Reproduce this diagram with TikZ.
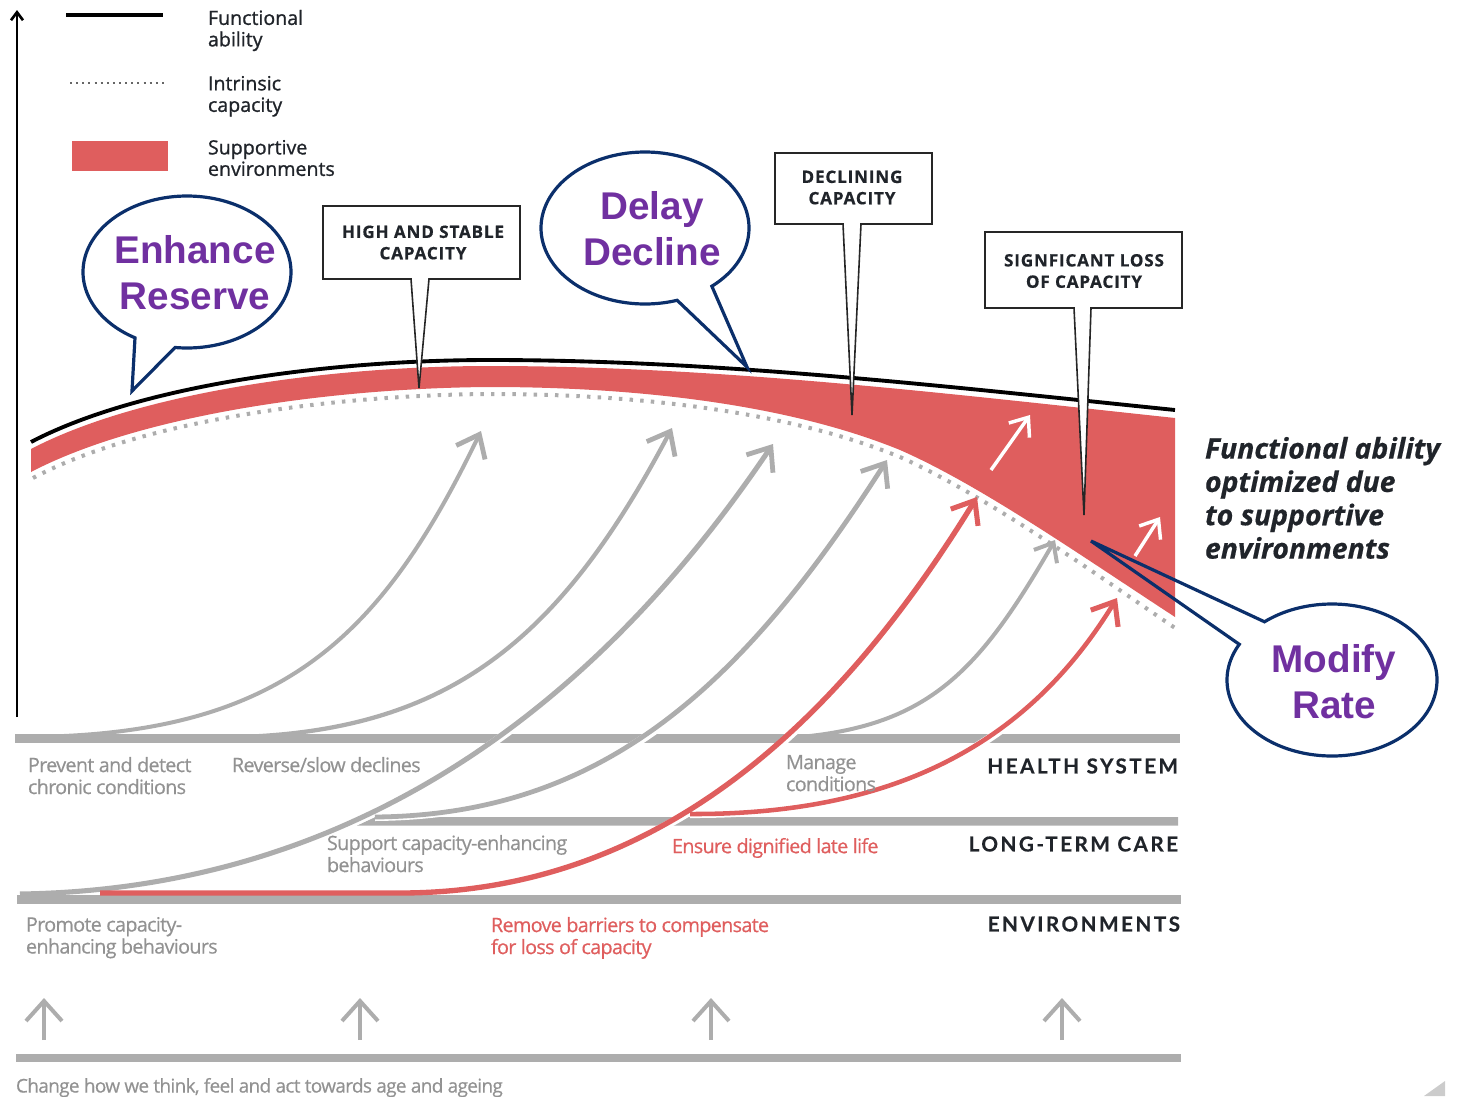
\documentclass[tikz,border=0pt]{standalone}
\usepackage{fontspec}
\setmainfont{Open Sans}
\newfontfamily\arialb{Liberation Sans}[BoldFont={Liberation Sans Bold}]
\newfontfamily\caplabel{Lato}[LetterSpace=12,BoldFeatures={FakeBold=0.4}]
\newfontfamily\tightfont{Open Sans}[LetterSpace=-3.5,FakeBold=0.5]
\newfontfamily\legendfont{Open Sans}[FakeBold=1]
\newfontfamily\boxfont{Open Sans}[LetterSpace=5,BoldFeatures={FakeBold=0.6}]
\newfontfamily\optfont{Open Sans}[BoldItalicFeatures={FakeBold=0.5}]
\usetikzlibrary{arrows.meta}
\definecolor{barg}{HTML}{ADADAD}
\definecolor{redf}{HTML}{DF5E5E}
\definecolor{navyc}{HTML}{0B2F6B}
\definecolor{purp}{HTML}{7030A0}
\definecolor{txtg}{HTML}{929292}
\definecolor{dark}{HTML}{20242A}
\tikzset{
  every node/.style={inner sep=0pt,outer sep=0pt},
  bar/.style={fill=barg,draw=none},
  garrow/.style={draw=barg,line width=3pt,-{Straight Barb[length=15pt,width=24pt,line width=3.6pt]}},
  rarrow/.style={draw=redf,line width=4pt,-{Straight Barb[length=15pt,width=24pt,line width=3.8pt]}},
  warrow/.style={draw=white,line width=2.6pt,-{Straight Barb[length=12pt,width=19pt,line width=2.6pt]}},
  uparrow/.style={draw=barg,line width=3pt,-{Straight Barb[length=15pt,width=27pt,line width=3pt]}},
  cut/.style={draw=white,line width=6pt,xshift=3.6pt},
  bubble/.style={draw=navyc,line width=2.4pt,line join=miter},
  bubbletext/.style={font=\arialb\bfseries\fontsize{29}{34.7}\selectfont,text=purp,align=center},
  pointerbox/.style={draw=black!85,fill=white,line width=1.2pt,line join=miter},
  boxtext/.style={font=\boxfont\bfseries\fontsize{12.8}{16}\selectfont,text=dark,align=center},
  legendtext/.style={font=\legendfont\fontsize{14.7}{16.1}\selectfont,text=dark,align=left,anchor=north west},
  greytext/.style={font=\tightfont\fontsize{14.85}{16.5}\selectfont,text=txtg,align=left,anchor=north west},
  redtext/.style={greytext,text=redf},
  systemtext/.style={font=\caplabel\bfseries\fontsize{15.5}{18}\selectfont,text=dark,anchor=east},
  optimised/.style={font=\optfont\bfseries\itshape\fontsize{21.3}{25}\selectfont,text=dark,align=left,anchor=north west},
}
\begin{document}
\begin{tikzpicture}[x=0.75pt,y=-0.75pt]
\useasboundingbox (0,0) rectangle (1460,1096);
% axis
\coordinate (axisbot) at (17,717);
\coordinate (axistop) at (17,10);
\draw[line width=1.9pt,black,-{Straight Barb[length=6pt,width=9pt,line width=2pt]}] (axisbot) -- (axistop);
% legend
\coordinate (la) at (66,15); \coordinate (lb) at (163,15);
\draw[black,line width=2.7pt] (la) -- (lb);
\coordinate (lc) at (70,83); \coordinate (ld) at (165,83);
\draw[black!60,line width=1.5pt,dash pattern=on 1.5pt off 3.1pt] (lc) -- (ld);
\fill[redf] (72,141) rectangle (168,171);
\node[legendtext] (lt1) at (208,10) {Functional\\ability};
\node[legendtext] (lt2) at (208,76) {Intrinsic\\capacity};
\node[legendtext] (lt3) at (208,140) {Supportive\\environments};
% red band
\fill[redf] (31,449) .. controls (140,392) and (330,366) .. (490,366) .. controls (720,366) and (950,394) .. (1175,418)
  -- (1175,617) .. controls (1080,555) and (980,485) .. (900,450) .. controls (790,405) and (640,387) .. (490,387) .. controls (330,388) and (140,415) .. (31,472) -- cycle;
% functional ability
\draw[black,line width=2.9pt] (31,442) .. controls (140,385) and (330,360) .. (490,360) .. controls (720,360) and (950,387) .. (1175,410);
% intrinsic capacity
\draw[barg,line width=3pt,dash pattern=on 2.6pt off 5.4pt] (33,478) .. controls (140,421) and (330,395) .. (490,394) .. controls (640,394) and (790,412) .. (900,457) .. controls (985,495) and (1090,570) .. (1178,630);
% bars
\fill[bar] (15,734) rectangle (1180,743);
\fill[bar] (357,825.5) -- (375,817) -- (1178,817) -- (1178,825.5) -- cycle;
\fill[bar] (17,895) rectangle (1181,904);
\fill[bar] (16,1054) rectangle (1181,1062);
% arrow ends
\coordinate (g1a) at (20,737);  \coordinate (g1b) at (481,431);
\coordinate (g2a) at (240,737); \coordinate (g2b) at (672,428);
\coordinate (g3a) at (20,894);  \coordinate (g3b) at (773,444);
\coordinate (g4a) at (375,817); \coordinate (g4b) at (887,460);
\coordinate (g5a) at (800,737); \coordinate (g5b) at (1055,540);
\coordinate (r1a) at (100,893); \coordinate (r1m) at (400,893); \coordinate (r1b) at (977,497);
\coordinate (r2a) at (690,814); \coordinate (r2b) at (1117,598);
% gaps in the bars
\begin{scope}
\clip (0,732) rectangle (1200,745) (0,815) rectangle (1200,827);
\draw[cut] (g3a) .. controls (300,890) and (560,760) .. (g3b);
\draw[cut] (g4a) .. controls (600,815) and (740,690) .. (g4b);
\draw[cut] (r1m) .. controls (660,893) and (840,720) .. (r1b);
\draw[cut] (r2a) .. controls (900,815) and (1030,740) .. (r2b);
\end{scope}
% grey arrows
\draw[garrow,line width=3pt] (g1a) .. controls (280,737) and (380,640) .. (g1b);
\draw[garrow,line width=3.2pt] (g2a) .. controls (450,730) and (560,640) .. (g2b);
\draw[garrow,line width=3.8pt] (g3a) .. controls (300,890) and (560,760) .. (g3b);
\draw[garrow,line width=3.6pt] (g4a) .. controls (600,815) and (740,690) .. (g4b);
\draw[garrow,line width=3pt,-{Straight Barb[length=12pt,width=20pt,line width=3pt]}] (g5a) .. controls (930,725) and (980,670) .. (g5b);
% red arrows
\draw[rarrow] (r1a) -- (r1m) .. controls (660,893) and (840,720) .. (r1b);
\draw[rarrow,line width=3.4pt] (r2a) .. controls (900,815) and (1030,740) .. (r2b);
% white arrows
\coordinate (w1a) at (991,470); \coordinate (w1b) at (1030,415);
\coordinate (w2a) at (1135,556); \coordinate (w2b) at (1160,517);
\draw[warrow] (w1a) -- (w1b);
\draw[warrow] (w2a) -- (w2b);
% up arrows
\foreach \n/\ux in {a/44,b/360,c/711,d/1062}{
  \coordinate (u\n a) at (\ux,1040); \coordinate (u\n b) at (\ux,998);
  \draw[uparrow] (u\n a) -- (u\n b);
}
% pointer boxes
\draw[pointerbox] (323,206) -- (520,206) -- (520,279) -- (429,279) -- (419,388) -- (411,279) -- (323,279) -- cycle;
\node[boxtext] (bx1) at (423,242.5) {HIGH AND STABLE\\CAPACITY};
\draw[pointerbox] (775,153) -- (932,153) -- (932,224) -- (861,224) -- (852,415) -- (843,224) -- (775,224) -- cycle;
\node[boxtext] (bx2) at (852,187.5) {DECLINING\\CAPACITY};
\draw[pointerbox] (985,232) -- (1182,232) -- (1182,308) -- (1091,308) -- (1084,515) -- (1074,308) -- (985,308) -- cycle;
\node[boxtext] (bx3) at (1084,271) {SIGNFICANT LOSS\\OF CAPACITY};
% bubbles
\draw[bubble] plot[domain=-96.6:240,samples=160] ({187+104*cos(\x)},{272-76*sin(\x)}) -- (132,391) -- cycle;
\node[bubbletext] (enh) at (195,272.5) {Enhance\\Reserve};
\draw[bubble] plot[domain=-50:288,samples=160] ({645+104*cos(\x)},{228-76*sin(\x)}) -- (747,367) -- cycle;
\node[bubbletext] (del) at (652,229) {Delay\\Decline};
\draw[bubble] plot[domain=152:490,samples=160] ({1332+105*cos(\x)},{680-76*sin(\x)}) -- (1091,541) -- cycle;
\node[bubbletext] (mod) at (1334,682) {Modify\\Rate};
% texts
\node[greytext] (t1) at (28,757) {Prevent and detect\\chronic conditions};
\node[greytext] (t2) at (232,757) {Reverse/slow declines};
\node[greytext] (t3) at (786,755) {Manage\\conditions};
\node[greytext] (t4) at (327,835) {Support capacity-enhancing\\behaviours};
\node[redtext] (t5) at (672,838) {Ensure dignified late life};
\node[greytext] (t6) at (26,917) {Promote capacity-\\enhancing behaviours};
\node[redtext] (t7) at (491,917) {Remove barriers to compensate\\for loss of capacity};
\node[greytext,font=\tightfont\fontsize{14.25}{16.5}\selectfont] (t8) at (16,1078) {Change how we think, feel and act towards age and ageing};
\node[systemtext] (s1) at (1178,766) {HEALTH SYSTEM};
\node[systemtext] (s2) at (1178,844) {LONG-TERM CARE};
\node[systemtext] (s3) at (1180,924) {ENVIRONMENTS};
\node[optimised] (op) at (1205,437) {Functional ability\\optimized due\\to supportive\\environments};
% corner mark
\fill[black!20] (1424,1096) -- (1445,1081) -- (1445,1096) -- cycle;
\end{tikzpicture}
\end{document}
